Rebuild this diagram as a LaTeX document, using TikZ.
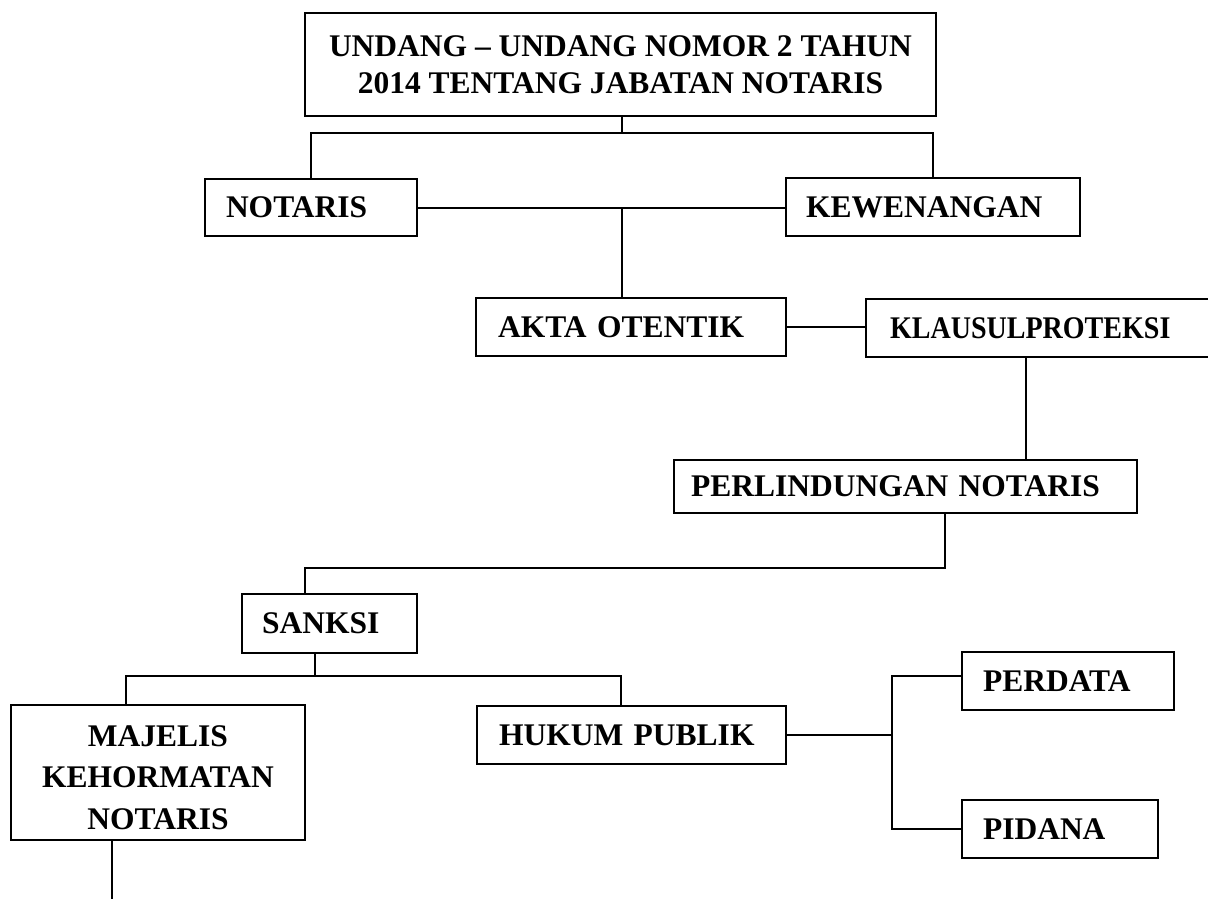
\documentclass[tikz,border=0pt]{standalone}
\usepackage{fontspec}
\setmainfont{Liberation Serif}
\begin{document}
\begin{tikzpicture}[x=0.5pt,y=-0.5pt,
    kotak/.style={draw,line width=1pt,anchor=north west,inner ysep=0pt,align=left,
      font=\fontsize{15.75}{18.5}\selectfont\bfseries},
    garis/.style={line width=1pt}]
  \useasboundingbox (0,0) rectangle (1208,899);
  \node[kotak,align=center,minimum width=315.5pt,minimum height=51.5pt] (judul) at (304,12)
    {UNDANG – UNDANG NOMOR 2 TAHUN\\2014 TENTANG JABATAN NOTARIS};
  \node[kotak,text width=85pt,inner xsep=10.5pt,minimum height=28.5pt] (notaris) at (204,178) {NOTARIS};
  \node[kotak,text width=127pt,inner xsep=10pt,minimum height=29pt] (wewenang) at (785,177) {KEWENANGAN};
  \node[kotak,text width=133pt,inner xsep=11pt,minimum height=29pt] (akta) at (475,297) {AKTA OTENTIK};
  \node[kotak,text width=151pt,inner xsep=12pt,minimum height=29pt] (klausul) at (865,298)
    {\scalebox{0.89}[1]{KLAUSULPROTEKSI}};
  \node[kotak,text width=214.5pt,inner xsep=8.5pt,minimum height=26.5pt] (lindung) at (673,459) {PERLINDUNGAN NOTARIS};
  \node[kotak,text width=67.5pt,inner xsep=10pt,minimum height=29.5pt] (sanksi) at (241,593) {SANKSI};
  \node[kotak,align=center,minimum width=147pt,minimum height=67.5pt,
    font=\fontsize{15.75}{20.75}\selectfont\bfseries] (majelis) at (10,704)
    {\rule{0pt}{15.5pt}MAJELIS\\KEHORMATAN\\NOTARIS};
  \node[kotak,text width=132.5pt,inner xsep=11pt,minimum height=29pt] (hukum) at (476,705) {HUKUM PUBLIK};
  \node[kotak,text width=85pt,inner xsep=10.5pt,minimum height=29pt] (perdata) at (961,651) {PERDATA};
  \node[kotak,text width=77pt,inner xsep=10.5pt,minimum height=29pt] (pidana) at (961,799) {PIDANA};

  \coordinate (cabang1) at (622,133);
  \coordinate (tengah) at (622,0);
  \coordinate (kanan) at (1026,0);
  \coordinate (cabang2) at (945,568);
  \coordinate (kiri) at (305,0);
  \coordinate (cabang3) at (315,676);
  \coordinate (kiri2) at (126,0);
  \coordinate (tengah2) at (621,0);
  \coordinate (ujung) at (112,899);
  \coordinate (simpul) at (892,0);

  \draw[garis] (cabang1 |- judul.south) -- (cabang1);
  \draw[garis] (notaris.north) |- (cabang1) -| (wewenang.north);
  \draw[garis] (notaris.east) -- (notaris.east -| wewenang.west);
  \draw[garis] (tengah |- notaris.east) -- (tengah |- akta.north);
  \draw[garis] (akta.east) -- (akta.east -| klausul.west);
  \draw[garis] (kanan |- klausul.south) -- (kanan |- lindung.north);
  \draw[garis] (cabang2 |- lindung.south) -- (cabang2) -| (kiri |- sanksi.north);
  \draw[garis] (cabang3 |- sanksi.south) -- (cabang3);
  \draw[garis] (kiri2 |- majelis.north) |- (cabang3) -| (tengah2 |- hukum.north);
  \draw[garis] (ujung |- majelis.south) -- (ujung);
  \draw[garis] (hukum.east) -- (hukum.east -| simpul);
  \draw[garis] (perdata.west |- cabang3) -| (simpul |- pidana.west) -- (pidana.west);
\end{tikzpicture}
\end{document}
